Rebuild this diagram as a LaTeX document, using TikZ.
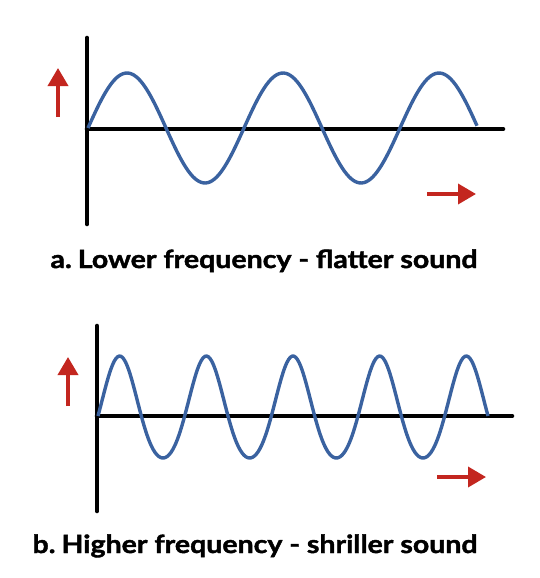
\documentclass[tikz,border=0pt]{standalone}
\usepackage{fontspec}
\setmainfont{Lato}
\newfontfamily\capfont[FakeStretch=1.14,BoldFeatures={FakeBold=1.6}]{Lato}
\usetikzlibrary{arrows.meta}
\definecolor{wave}{HTML}{3A62A0}
\definecolor{arr}{HTML}{C3261F}
\begin{document}
\begin{tikzpicture}[x=1pt,y=-1pt,
  axis/.style={line width=4.6pt,line cap=round,black},
  wavecurve/.style={line width=3.4pt,wave,line join=round},
  redarrow/.style={line width=3.6pt,arr,-{Triangle[length=18pt,width=20pt]}},
  caption/.style={anchor=base,font=\capfont\bfseries\fontsize{25}{30}\selectfont}]
\useasboundingbox[fill=white] (0,0) rectangle (540,578);
% panel a
\coordinate (aytop) at (87,38);
\coordinate (aybot) at (87,224);
\coordinate (aorig) at (87,129);
\coordinate (axend) at (503,129);
\draw[axis] (aytop) -- (aybot);
\draw[axis] (aorig) -- (axend);
\draw[wavecurve] plot[domain=88:477,samples=180,smooth] (\x,{128-55*sin(2.3077*(\x-88))});
\coordinate (aus) at (58,117); \coordinate (aue) at (58,68);
\draw[redarrow] (aus) -- (aue);
\coordinate (ars) at (427,194); \coordinate (are) at (476,194);
\draw[redarrow] (ars) -- (are);
\node[caption] (capa) at (264,268) {a.\hspace{6pt}Lower frequency - flatter sound};
% panel b
\coordinate (bytop) at (97,326);
\coordinate (bybot) at (97,511);
\coordinate (borig) at (97,416);
\coordinate (bxend) at (512,416);
\draw[axis] (bytop) -- (bybot);
\draw[axis] (borig) -- (bxend);
\draw[wavecurve] plot[domain=98:488,samples=220,smooth]
  (\x,{407-51*sin(4.1538*(\x-98))+9*cos(4.1538*(\x-98))*cos(4.1538*(\x-98))});
\coordinate (bus) at (68,406); \coordinate (bue) at (68,357);
\draw[redarrow] (bus) -- (bue);
\coordinate (brs) at (437,477); \coordinate (bre) at (486,477);
\draw[redarrow] (brs) -- (bre);
\node[caption] (capb) at (255,553) {b.\hspace{6pt}Higher frequency - shriller sound};
\end{tikzpicture}
\end{document}
